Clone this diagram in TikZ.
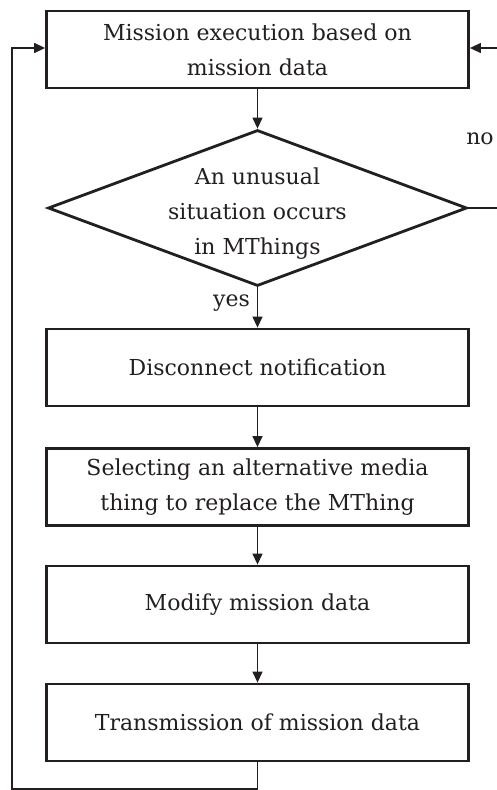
\documentclass[tikz,border=0pt]{standalone}
\usepackage{fontspec}
\setmainfont{DejaVu Serif}
\usetikzlibrary{shapes.geometric,arrows.meta}
\definecolor{ink}{HTML}{231F20}
\begin{document}
\begin{tikzpicture}[x=1pt,y=-1pt,
  txt/.style={font=\fontsize{22}{35}\selectfont, text=ink},
  box/.style={txt, draw=ink, line width=2.8pt, minimum width=422pt, minimum height=77pt, inner sep=0pt, align=center},
  dec/.style={diamond, draw=ink, line width=2.8pt, minimum width=419pt, minimum height=156pt, inner sep=0pt},
  conn/.style={draw=ink, line width=1.3pt, -{Triangle[length=11pt,width=10pt]}},
  plain/.style={draw=ink, line width=1.3pt}]
\useasboundingbox (0,0) rectangle (496,790);
\fill[white] (0,0) rectangle (496,790);
\node[box] (b1) at (257.5,49.5) {Mission execution based on\\mission data};
\node[dec] (d) at (257.5,208) {};
\node[txt, align=center, inner sep=0pt] (dt) at (257.5,214) {An unusual\\situation occurs\\in MThings};
\node[box] (b2) at (257.5,367.5) {Disconnect notification};
\node[box] (b3) at (257.5,487) {Selecting an alternative media\\thing to replace the MThing};
\node[box] (b4) at (257.5,604.5) {Modify mission data};
\node[box] (b5) at (257.5,722.5) {Transmission of mission data};
\coordinate (bl) at (12,789);
\coordinate (tl) at (12,48);
\coordinate (nr) at (500,208);
\coordinate (tr) at (500,48);
\draw[conn] (b1) -- (d);
\draw[conn] (d) -- node[txt, pos=0.38, left, inner sep=7pt] {yes} (b2);
\draw[conn] (b2) -- (b3);
\draw[conn] (b3) -- (b4);
\draw[conn] (b4) -- (b5);
\draw[conn] (b5.south) -- (b5.south |- bl) -- (bl) -- (tl) -- (tl -| b1.west);
\draw[plain] (d.east) -- (nr);
\draw[conn] (tr) -- (tr -| b1.east);
\node[txt] (no) at (480,139) {no};
\end{tikzpicture}
\end{document}
